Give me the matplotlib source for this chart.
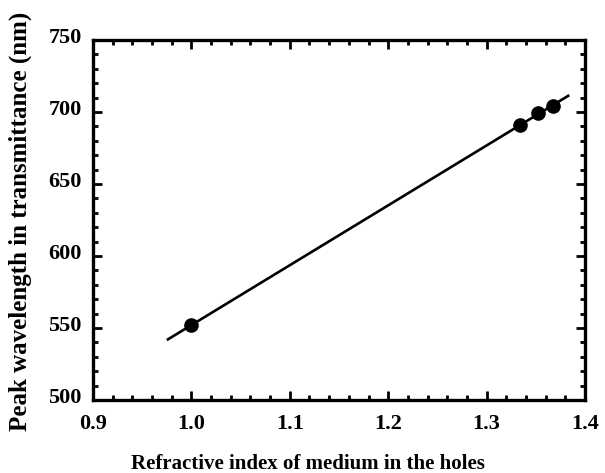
import numpy as np
import matplotlib
matplotlib.use("Agg")
import matplotlib.pyplot as plt
from matplotlib.ticker import MultipleLocator
from matplotlib.transforms import ScaledTranslation

# measured points
n_medium = [1.000, 1.334, 1.352, 1.367]
peak_nm = [552, 691, 699, 704]

# extent of the fitted line
fit_range = [0.975, 1.384]

plt.rcParams['font.family'] = ['Liberation Serif', 'DejaVu Serif']
plt.rcParams['font.weight'] = 'bold'

fig = plt.figure(figsize=(6.05, 4.73), dpi=100)
ax = fig.add_axes([0.1537, 0.1543, 0.8133, 0.7611])

coef = np.polyfit(n_medium, peak_nm, 1)
fx = np.array(fit_range)
ax.plot(fx, np.polyval(coef, fx), color='black', lw=1.9, solid_capstyle='butt')
ax.plot(n_medium, peak_nm, 'o', color='black', markersize=9.5)

ax.set_xlim(0.9, 1.4)
ax.set_ylim(500, 750)
ax.xaxis.set_major_locator(MultipleLocator(0.1))
ax.xaxis.set_minor_locator(MultipleLocator(0.02))
ax.yaxis.set_major_locator(MultipleLocator(50))
ax.yaxis.set_minor_locator(MultipleLocator(10))
ax.xaxis.set_major_formatter(matplotlib.ticker.FormatStrFormatter('%.1f'))

for s in ax.spines.values():
    s.set_linewidth(2.4)
ax.tick_params(which='both', direction='in', top=True, right=True, width=2.0, labelsize=16)
ax.tick_params(which='major', length=6.5)
ax.tick_params(axis='x', which='major', pad=10)
ax.tick_params(axis='y', which='major', pad=8)
ax.tick_params(which='minor', length=3.8)

# y tick labels sit a little above their ticks in the original
shift = ScaledTranslation(0, 3 / 72, fig.dpi_scale_trans)
for lbl in ax.get_yticklabels():
    lbl.set_transform(lbl.get_transform() + shift)

ax.set_xlabel('Refractive index of medium in the holes', fontsize=15, fontweight='bold')
ax.set_ylabel('Peak wavelength in transmittance (nm)', fontsize=18, fontweight='bold')
ax.xaxis.set_label_coords(0.436, -0.149)
ax.yaxis.set_label_coords(-0.124, 0.497)

fig.savefig('out.png', dpi=100)
